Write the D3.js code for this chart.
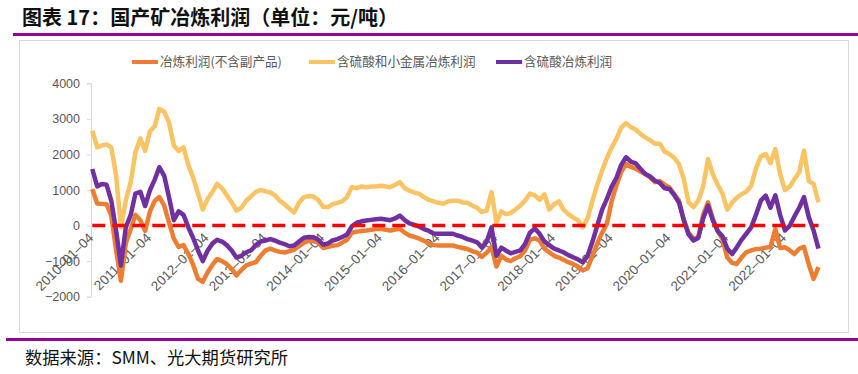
<!DOCTYPE html>
<html>
<head>
<meta charset="utf-8">
<script src="https://cdn.jsdelivr.net/npm/d3@7"></script>
<style>
  body { margin: 0; background: #fff; }
  svg { display: block; }
</style>
</head>
<body>
<svg width="858" height="374"></svg>
<script>
// monthly readings, Jan 2010 .. Aug 2022
const firstDate = "2010-01-04";

const smelting = [ // 冶炼利润(不含副产品)
  1030, 620, 610, 600, 280, -700, -1550, -500, -100, 300, 150, -150,
  400, 700, 800, 560, 90, -370, -600, -550, -800, -1100, -1500, -1580,
  -1310, -1100, -940, -1000, -1080, -1220, -1400, -1250, -1120, -1070, -1030, -850,
  -700, -650, -700, -740, -760, -720, -680, -580, -480, -430, -440, -480,
  -630, -600, -570, -550, -480, -400, -200, -170, -150, -140, -120, -100,
  -90, -120, -140, -110, -90, -200, -280, -320, -370, -430, -500, -550,
  -560, -560, -560, -560, -600, -630, -660, -720, -760, -880, -760, -610,
  -1150, -850, -950, -1000, -920, -860, -700, -400, -360, -420, -650, -750,
  -850, -900, -960, -1030, -1080, -1150, -1260, -1200, -850, -500, -200, 50,
  700, 1150, 1500, 1730, 1650, 1600, 1520, 1450, 1350, 1220, 1250, 1150,
  1070, 880, 700, 150, -200, -370, -330, 300, 650, 200, -150, -380,
  -900, -1050, -1080, -900, -750, -700, -660, -650, -620, -600, -100, -630,
  -610, -700, -800, -650, -600, -1100, -1500, -1170
];

const withByproducts = [ // 含硫酸和小金属冶炼利润
  2670, 2200, 2250, 2280, 2200, 1400, -50, 700, 1220, 2060, 2450, 2100,
  2650, 2800, 3280, 3200, 2900, 2250, 2100, 2200, 1700, 1350, 900, 450,
  750, 950, 1170, 1050, 850, 650, 420, 500, 700, 820, 950, 1000,
  960, 930, 850, 700, 600, 480, 370, 650, 800, 830, 820, 720,
  520, 520, 600, 640, 680, 800, 1080, 1050, 1100, 1080, 1100, 1100,
  1120, 1100, 1080, 1150, 1220, 1050, 980, 930, 890, 800, 720, 680,
  640, 610, 680, 700, 700, 650, 640, 560, 500, 380, 420, 940,
  80, 400, 320, 350, 450, 560, 700, 900, 850, 720, 880, 450,
  600, 680, 450, 320, 230, 150, -50, 200, 700, 1150, 1550, 1900,
  2200, 2450, 2750, 2880, 2770, 2700, 2580, 2480, 2400, 2300, 2300, 2080,
  2010, 1900, 1730, 1300, 650, 520, 700, 1100, 1870, 1450, 1150, 900,
  450, 650, 780, 880, 950, 1120, 1600, 1950, 2010, 1750, 2150, 1450,
  1000, 1100, 1300, 1500, 2110, 1250, 1170, 650
];

const withAcid = [ // 含硫酸冶炼利润
  1590, 1100, 1170, 1150, 700, -150, -1120, -50, 300, 900, 950, 550,
  1000, 1300, 1640, 1400, 800, 150, 400, 300, -50, -350, -700, -1000,
  -700, -500, -400, -450, -550, -700, -900, -850, -750, -700, -550, -450,
  -420, -380, -420, -480, -520, -580, -560, -450, -340, -320, -330, -400,
  -540, -500, -420, -380, -320, -250, -20, 80, 120, 140, 160, 180,
  190, 170, 150, 200, 280, 150, 60, 20, -30, -100, -150, -220,
  -230, -230, -230, -230, -280, -320, -380, -420, -470, -620, -450, -50,
  -850, -620, -700, -780, -740, -700, -520, -200, -80, -230, -450, -550,
  -650, -700, -750, -830, -890, -950, -1030, -850, -450, 0, 450, 750,
  1100, 1360, 1700, 1920, 1800, 1750, 1600, 1450, 1380, 1260, 1200, 1050,
  1030, 850, 650, 150, -250, -420, -350, 200, 560, 150, -150, -300,
  -650, -800, -620, -400, -230, -50, 300, 700, 840, 500, 850, 300,
  -140, 0, 250, 500, 800, 230, -140, -650
];

const seriesNames = ["冶炼利润(不含副产品)", "含硫酸和小金属冶炼利润", "含硫酸冶炼利润"];
const seriesColors = ["#ED7D31", "#FAC363", "#7030A0"];
const yTicks = [4000, 3000, 2000, 1000, 0, -1000, -2000];
const xTickLabels = ["2010-01-04", "2011-01-04", "2012-01-04", "2013-01-04", "2014-01-04",
  "2015-01-04", "2016-01-04", "2017-01-04", "2018-01-04", "2019-01-04", "2020-01-04",
  "2021-01-04", "2022-01-04"];

const parse = d3.timeParse("%Y-%m-%d");
const start = parse(firstDate);
const dates = smelting.map((_, i) => d3.timeMonth.offset(start, i));

const svg = d3.select("svg");

const x = d3.scaleTime()
  .domain([parse("2010-01-04"), parse("2022-01-04")])
  .range([92.3, 785]);
const y = d3.scaleLinear().domain([-2000, 4000]).range([296.7, 83.3]);

// title + rules + frame
svg.append("text")
  .attr("x", 22).attr("y", 25)
  .attr("font-family", "Noto Sans CJK SC")
  .attr("font-weight", "bold")
  .attr("font-size", 20)
  .attr("fill", "#111")
  .text("图表 17：国产矿冶炼利润（单位：元/吨）");

svg.append("rect").attr("x", 13).attr("y", 33).attr("width", 845).attr("height", 3).attr("fill", "#990099");
svg.append("rect").attr("x", 19.5).attr("y", 40.5).attr("width", 829).attr("height", 292)
  .attr("fill", "none").attr("stroke", "#D9D9D9");
svg.append("rect").attr("x", 6).attr("y", 338).attr("width", 852).attr("height", 3).attr("fill", "#990099");

svg.append("text")
  .attr("x", 25).attr("y", 364)
  .attr("font-family", "Noto Sans CJK SC")
  .attr("font-size", 17.3)
  .attr("fill", "#111")
  .text("数据来源：SMM、光大期货研究所");

// y axis
const yAxis = svg.append("g")
  .attr("transform", "translate(91,0)")
  .call(d3.axisLeft(y).tickValues(yTicks).tickSize(4).tickPadding(7).tickFormat(d3.format("d")));
yAxis.select(".domain").attr("stroke", "#D9D9D9");
yAxis.selectAll(".tick line").attr("stroke", "#D9D9D9");
yAxis.selectAll(".tick text")
  .attr("fill", "#595959")
  .attr("font-family", "Liberation Sans, Arial, sans-serif")
  .attr("font-size", 12.5);

// x tick labels, rotated, hanging just under the zero line
svg.append("g").selectAll("text")
  .data(xTickLabels)
  .join("text")
  .attr("transform", d => `translate(${x(parse(d)) + 2},${y(0) + 13}) rotate(-45)`)
  .attr("text-anchor", "end")
  .attr("fill", "#595959")
  .attr("font-family", "Liberation Sans, Arial, sans-serif")
  .attr("font-size", 13.5)
  .text(d => d.replace(/-/g, "–"));

// series
const line = d3.line()
  .x((d, i) => x(dates[i]))
  .y(d => y(d));

[smelting, withByproducts, withAcid].forEach((vals, k) => {
  svg.append("path")
    .datum(vals)
    .attr("d", line)
    .attr("fill", "none")
    .attr("stroke", seriesColors[k])
    .attr("stroke-width", 4.5)
    .attr("stroke-linejoin", "round");
});

// zero line
svg.append("line")
  .attr("x1", x(dates[0])).attr("x2", x(dates[dates.length - 1]))
  .attr("y1", y(0)).attr("y2", y(0))
  .attr("stroke", "#FF0000")
  .attr("stroke-width", 3.5)
  .attr("stroke-dasharray", "13,7");

// legend
const legendX = [132, 309, 496];
const legend = svg.append("g").selectAll("g")
  .data(seriesNames)
  .join("g")
  .attr("transform", (d, i) => `translate(${legendX[i]},62)`);
legend.append("line")
  .attr("x1", 0).attr("x2", 26)
  .attr("stroke", (d, i) => seriesColors[i])
  .attr("stroke-width", 4);
legend.append("text")
  .attr("x", 28).attr("dy", "0.35em")
  .attr("fill", "#595959")
  .attr("font-family", "Noto Sans CJK SC")
  .attr("font-size", 12.6)
  .text(d => d);
</script>
</body>
</html>
